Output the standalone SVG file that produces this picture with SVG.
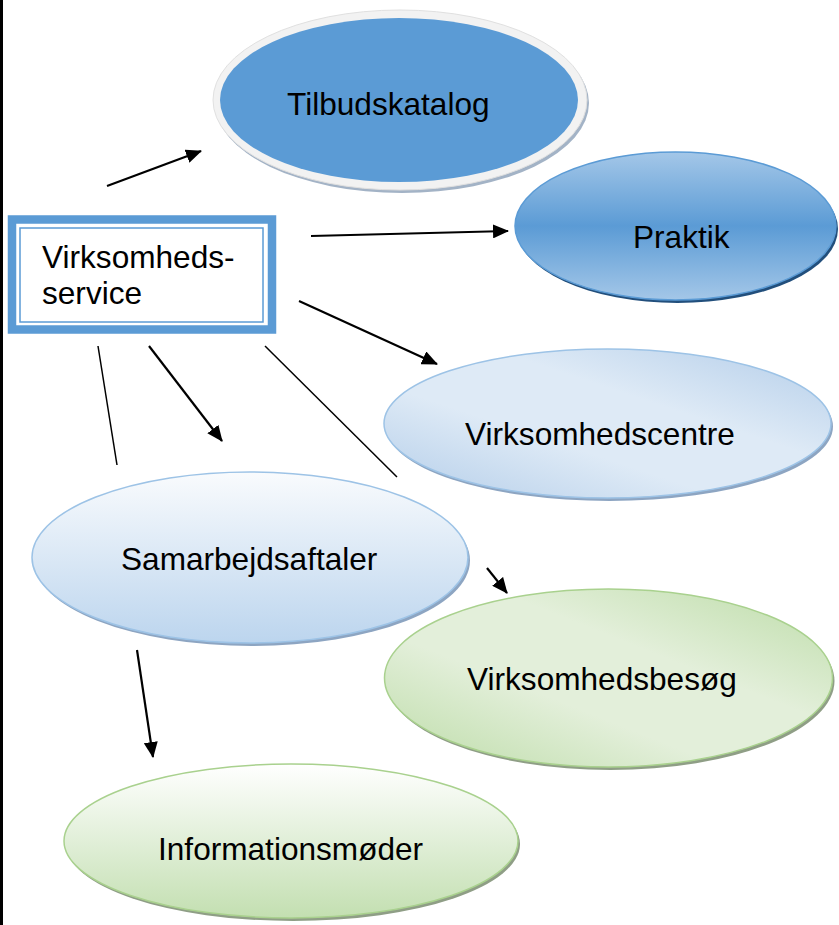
<svg xmlns="http://www.w3.org/2000/svg" width="839" height="925" viewBox="0 0 839 925">
<defs>
<style>
text{font-family:"Liberation Sans",Arial,sans-serif;font-size:31.6px;fill:#000}
.ln{stroke:#000;stroke-width:2.2;fill:none}
.thin{stroke:#000;stroke-width:1.5;fill:none}
</style>
<marker id="ah" viewBox="0 0 16 14" refX="15" refY="7" markerWidth="16" markerHeight="14" markerUnits="userSpaceOnUse" orient="auto">
<path d="M0,0 L16,7 L0,14 z" fill="#000"/>
</marker>
<linearGradient id="gPr" x1="0" y1="0" x2="0" y2="1">
<stop offset="0" stop-color="#a4c7e8"/>
<stop offset="0.5" stop-color="#5b9bd5"/>
<stop offset="1" stop-color="#a4c7e8"/>
</linearGradient>
<linearGradient id="gVc" x1="1" y1="0" x2="0" y2="1">
<stop offset="0" stop-color="#b3cde9"/>
<stop offset="0.38" stop-color="#deeaf6"/>
<stop offset="0.62" stop-color="#deeaf6"/>
<stop offset="1" stop-color="#b3cde9"/>
</linearGradient>
<linearGradient id="gSa" x1="0" y1="0" x2="0" y2="1">
<stop offset="0" stop-color="#f9fbfd"/>
<stop offset="1" stop-color="#bcd5ee"/>
</linearGradient>
<linearGradient id="gVb" x1="1" y1="0" x2="0" y2="1">
<stop offset="0" stop-color="#bcdca7"/>
<stop offset="0.38" stop-color="#e3efda"/>
<stop offset="0.62" stop-color="#e3efda"/>
<stop offset="1" stop-color="#bcdca7"/>
</linearGradient>
<linearGradient id="gIm" x1="0" y1="0" x2="0" y2="1">
<stop offset="0" stop-color="#ffffff"/>
<stop offset="1" stop-color="#c3dfb1"/>
</linearGradient>
</defs>
<rect x="0" y="0" width="839" height="925" fill="#fff"/>
<rect x="0" y="0" width="3" height="925" fill="#000"/>

<g id="connectors">
<line class="ln" x1="107" y1="186" x2="201" y2="151" marker-end="url(#ah)"/>
<line class="ln" x1="311" y1="236" x2="508" y2="231" marker-end="url(#ah)"/>
<line class="ln" x1="299" y1="301" x2="437" y2="364" marker-end="url(#ah)"/>
<line class="thin" x1="98" y1="346" x2="117" y2="465"/>
<line class="ln" x1="149" y1="346" x2="222" y2="441" marker-end="url(#ah)"/>
<line class="thin" x1="265" y1="346" x2="397" y2="477"/>
<line class="ln" x1="487" y1="568" x2="507" y2="593" marker-end="url(#ah)"/>
<line class="ln" x1="137" y1="650" x2="153" y2="757" marker-end="url(#ah)"/>
</g>

<g id="tilbudskatalog">
<ellipse cx="402" cy="103" rx="187" ry="90" fill="#a3b3c6"/>
<ellipse cx="400" cy="100" rx="187" ry="90" fill="#f2f2f2" stroke="#e0e0e0" stroke-width="1"/>
<ellipse cx="399" cy="100" rx="179" ry="82" fill="#5b9bd5"/>
<text x="287" y="115">Tilbudskatalog</text>
</g>

<g id="praktik">
<ellipse cx="677.5" cy="229" rx="160.5" ry="74" fill="#224f7c"/>
<ellipse cx="675.5" cy="226" rx="160.5" ry="74" fill="url(#gPr)" stroke="#5b9bd5" stroke-width="1.5"/>
<text x="633" y="248">Praktik</text>
</g>

<g id="virksomhedsservice">
<rect x="12" y="219.5" width="260" height="110" fill="#fff" stroke="#5b9bd5" stroke-width="8.5"/>
<rect x="20" y="228" width="243" height="94" fill="none" stroke="#5b9bd5" stroke-width="1.5"/>
<text x="42" y="268">Virksomheds-</text>
<text x="42" y="304">service</text>
</g>

<g id="virksomhedscentre">
<ellipse cx="609.5" cy="426.5" rx="223.5" ry="74.5" fill="#8da5c2"/>
<ellipse cx="607.5" cy="423.5" rx="223.5" ry="74.5" fill="url(#gVc)" stroke="#9dc3e6" stroke-width="1.5"/>
<text x="465" y="445">Virksomhedscentre</text>
</g>

<g id="samarbejdsaftaler">
<ellipse cx="252" cy="560.5" rx="218" ry="85.5" fill="#8da5c2"/>
<ellipse cx="250" cy="557.5" rx="218" ry="85.5" fill="url(#gSa)" stroke="#9dc3e6" stroke-width="1.5"/>
<text x="121" y="570">Samarbejdsaftaler</text>
</g>

<g id="virksomhedsbesog">
<ellipse cx="610.5" cy="681" rx="224" ry="89" fill="#8f9e86"/>
<ellipse cx="608.5" cy="678" rx="224" ry="89" fill="url(#gVb)" stroke="#a9d18e" stroke-width="1.5"/>
<text x="467" y="690">Virksomhedsbesøg</text>
</g>

<g id="informationsmoder">
<ellipse cx="293" cy="844" rx="227" ry="77" fill="#8f9e86"/>
<ellipse cx="291" cy="841" rx="227" ry="77" fill="url(#gIm)" stroke="#a9d18e" stroke-width="1.5"/>
<text x="158" y="860">Informationsmøder</text>
</g>
</svg>
